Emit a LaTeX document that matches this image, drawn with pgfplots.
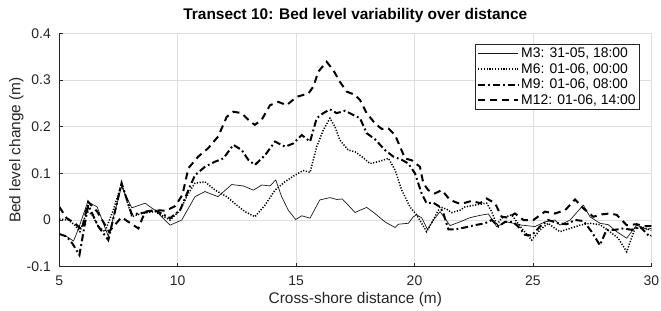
\documentclass[border=0pt]{standalone}
\usepackage{fontspec}
\setmainfont{Liberation Sans}
\usepackage{pgfplots}
\pgfplotsset{compat=1.18}
\definecolor{axgray}{gray}{0.15}
\definecolor{gridgray}{gray}{0.87}
\begin{document}
\begin{tikzpicture}
\begin{axis}[
  scale only axis, width=592bp, height=233.4bp,
  xmin=5, xmax=30, ymin=-0.1, ymax=0.4,
  xtick={5,10,15,20,25,30},
  ytick={-0.1,0,0.1,0.2,0.3,0.4},
  axis x line*=bottom, axis y line*=left,
  x axis line style={-}, y axis line style={-},
  axis line style={axgray, line width=0.6bp},
  every tick/.style={axgray, line width=0.6bp},
  major tick length=4bp, tick align=inside,
  grid=major, major grid style={gridgray, line width=0.6bp},
  tick label style={font=\fontsize{14}{16}\selectfont, text=axgray},
  yticklabel style={xshift=-5bp},
  xticklabel style={yshift=-6bp},
  /pgf/number format/assume math mode=true,
  xlabel={Cross-shore distance (m)},
  ylabel={Bed level change (m)},
  label style={font=\fontsize{15.5}{18}\selectfont, text=axgray},
  xlabel style={at={(axis description cs:0.5,0)}, anchor=base, yshift=-37bp},
  ylabel style={at={(axis description cs:-0.0659,0.5)}, rotate=0, anchor=base},
  title={Transect 10: Bed level variability over distance},
  title style={font=\bfseries\fontsize{15.5}{18}\selectfont, at={(axis description cs:0.5,1)}, anchor=base, yshift=8bp},
  legend style={at={(axis description cs:1,1)}, anchor=north east, xshift=-11.3bp, yshift=-11bp,
    draw=axgray, line width=0.6bp, fill=white, font=\fontsize{14}{16}\selectfont,
    inner xsep=2bp, inner ysep=1bp, row sep=0.5bp},
  legend cell align=left,
  legend image code/.code={\draw[#1] (0bp,0bp) -- (40bp,0bp);},
]
\coordinate (bl) at (rel axis cs:0,0);
\coordinate (tr) at (rel axis cs:1,1);
% M3 solid
\addplot[black!90, line width=0.7bp, line join=round] coordinates {
(5.0,-0.03) (5.3,-0.035) (5.6,-0.045) (5.8,-0.02) (6.2,0.039) (6.6,0.028) (7.07,-0.035)
(7.63,0.072) (8.06,0.026) (8.62,0.036) (9.04,0.021) (9.68,-0.011) (10.17,0.0) (10.73,0.05)
(11.15,0.061) (11.7,0.05) (12.28,0.076) (12.77,0.073) (13.2,0.064) (13.55,0.075) (13.9,0.073)
(14.14,0.086) (14.39,0.05) (14.67,0.021) (14.98,0.001) (15.24,0.009) (15.59,0.004) (16.0,0.043)
(16.43,0.048) (16.71,0.044) (16.95,0.045) (17.2,0.032) (17.49,0.016) (17.7,0.021) (17.98,0.027)
(18.33,0.014) (18.75,-0.004) (19.18,-0.016) (19.32,-0.009) (19.74,-0.007) (19.95,0.007) (20.09,0.011)
(20.3,0.005) (20.55,-0.02) (20.8,0.0) (21.08,0.018) (21.5,-0.012) (21.92,-0.004) (22.34,0.005)
(22.77,0.01) (23.12,0.013) (23.47,-0.014) (23.9,-0.004) (24.53,-0.011) (25.09,-0.014) (25.51,-0.004)
(25.93,0.0) (26.14,-0.011) (26.57,0.0) (27.13,0.032) (27.41,0.007) (27.83,-0.007) (28.18,-0.01)
(28.54,-0.025) (28.96,-0.039) (29.38,-0.011) (29.8,-0.02) (30.0,-0.018)
};
\addlegendentry{M3: 31-05, 18:00}
% M6 dotted
\addplot[black, line width=1.5bp, dash pattern=on 1.2bp off 1.6bp] coordinates {
(5.0,0.002) (5.38,0.0) (5.66,-0.011) (5.87,-0.025) (6.16,0.018) (6.37,0.012) (6.65,-0.014)
(6.93,-0.025) (7.28,0.021) (7.63,0.079) (8.06,0.007) (8.48,0.014) (9.04,0.018) (9.68,0.0)
(10.1,0.021) (10.45,0.057) (10.73,0.079) (11.15,0.082) (11.58,0.064) (12.07,0.05) (12.49,0.032)
(12.84,0.018) (13.26,0.007) (13.69,0.032) (14.11,0.064) (14.53,0.082) (14.95,0.096) (15.3,0.106)
(15.59,0.102) (15.87,0.157) (16.15,0.193) (16.43,0.218) (16.64,0.2) (16.85,0.171) (17.2,0.15)
(17.49,0.146) (17.77,0.136) (18.12,0.121) (18.47,0.125) (18.9,0.132) (19.18,0.107) (19.46,0.064)
(19.81,0.028) (20.09,0.011) (20.3,-0.007) (20.51,-0.025) (20.79,0.0) (21.08,0.028) (21.36,0.023)
(21.57,0.016) (21.92,0.021) (22.13,0.028) (22.55,0.032) (23.05,0.036) (23.26,0.018) (23.47,-0.011)
(23.68,0.004) (24.1,0.011) (24.53,-0.018) (24.95,-0.043) (25.3,-0.021) (25.65,-0.007) (25.93,-0.018)
(26.14,-0.025) (26.57,-0.018) (26.99,-0.011) (27.41,-0.007) (27.83,-0.01) (28.25,-0.025) (28.6,-0.039)
(28.96,-0.068) (29.31,-0.018) (29.66,-0.016) (30.0,-0.022)
};
\addlegendentry{M6: 01-06, 00:00}
% M9 dash-dot
\addplot[black, line width=2bp, dash pattern=on 7bp off 3bp on 1.8bp off 3bp] coordinates {
(5.0,-0.03) (5.3,-0.035) (5.55,-0.05) (5.85,-0.075) (6.22,0.032) (6.65,-0.014) (7.07,-0.043)
(7.63,0.079) (8.06,0.012) (8.5,0.015) (9.04,0.021) (9.68,0.004) (10.1,0.021) (10.45,0.064)
(10.73,0.096) (11.15,0.114) (11.58,0.125) (11.93,0.132) (12.35,0.161) (12.7,0.15) (12.98,0.129)
(13.26,0.118) (13.69,0.139) (14.11,0.168) (14.53,0.157) (14.88,0.164) (15.24,0.182) (15.59,0.168)
(15.87,0.218) (16.15,0.229) (16.43,0.237) (16.71,0.229) (17.07,0.234) (17.42,0.225) (17.7,0.218)
(17.98,0.186) (18.33,0.173) (18.75,0.15) (19.1,0.136) (19.46,0.129) (19.74,0.121) (20.02,0.1)
(20.3,0.057) (20.51,0.036) (20.79,0.037) (21.08,0.028) (21.22,0.014) (21.43,-0.02) (21.71,-0.02)
(22.13,-0.016) (22.55,-0.011) (22.98,-0.007) (23.26,0.0) (23.54,-0.014) (23.82,-0.004) (24.17,-0.004)
(24.45,-0.018) (24.67,-0.032) (24.95,-0.033) (25.3,-0.014) (25.65,0.0) (26.07,-0.007) (26.43,-0.009)
(26.78,0.0) (27.13,-0.002) (27.48,-0.025) (27.83,-0.054) (28.11,-0.021) (28.47,-0.021) (28.82,-0.018)
(29.17,-0.021) (29.52,-0.014) (29.94,-0.036) (30.0,-0.033)
};
\addlegendentry{M9: 01-06, 08:00}
% M12 dashed
\addplot[black, line width=2bp, dash pattern=on 7bp off 5bp] coordinates {
(5.0,0.028) (5.31,0.004) (5.66,-0.007) (5.95,-0.021) (6.22,0.039) (6.6,0.018) (7.1,-0.025)
(7.63,0.006) (7.92,-0.004) (8.34,-0.018) (8.62,0.018) (9.04,0.021) (9.5,0.02) (9.9,0.03)
(10.2,0.054) (10.45,0.111) (10.87,0.136) (11.29,0.154) (11.71,0.179) (12.07,0.221) (12.35,0.232)
(12.7,0.229) (13.05,0.211) (13.26,0.204) (13.55,0.215) (13.9,0.246) (14.25,0.253) (14.6,0.246)
(15.03,0.264) (15.52,0.271) (15.73,0.286) (15.94,0.318) (16.29,0.339) (16.57,0.321) (16.85,0.296)
(17.14,0.275) (17.49,0.268) (17.7,0.257) (17.98,0.229) (18.33,0.207) (18.62,0.195) (18.9,0.196)
(19.18,0.182) (19.39,0.157) (19.6,0.132) (19.88,0.128) (20.23,0.114) (20.37,0.079) (20.58,0.064)
(20.86,0.057) (21.15,0.064) (21.5,0.043) (21.85,0.036) (22.0,0.035) (22.42,0.041) (22.77,0.036)
(23.05,0.046) (23.4,0.036) (23.68,0.007) (23.96,0.005) (24.24,0.014) (24.6,0.0) (25.02,0.0)
(25.51,0.018) (25.93,0.014) (26.36,0.021) (26.78,0.044) (27.13,0.025) (27.55,0.007) (27.9,0.012)
(28.25,0.014) (28.54,0.011) (28.96,-0.011) (29.38,-0.009) (29.7,-0.013) (30.0,-0.013)
};
\addlegendentry{M12: 01-06, 14:00}
\end{axis}
\pgfresetboundingbox
\path[use as bounding box] ([shift={(-59.3bp,-44.3bp)}]bl) rectangle ([shift={(9.7bp,33.3bp)}]tr);
\end{tikzpicture}
\end{document}
